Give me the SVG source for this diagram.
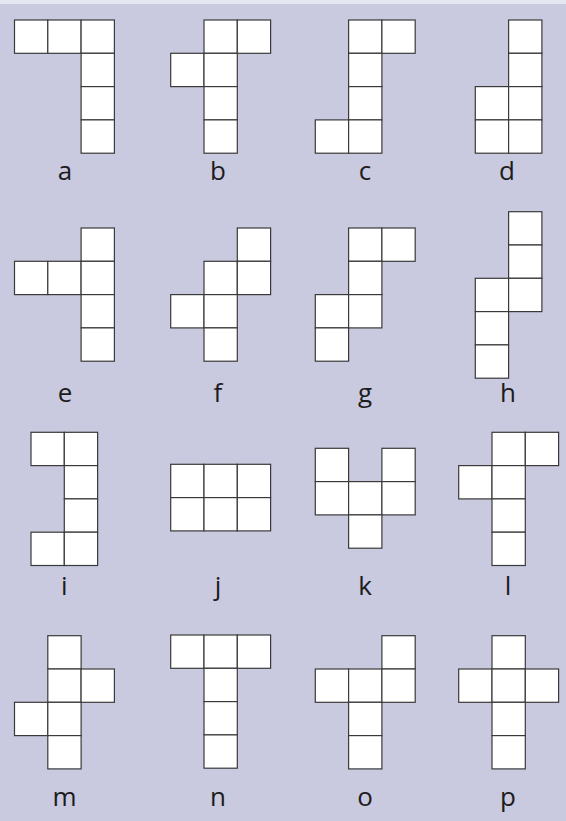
<svg xmlns="http://www.w3.org/2000/svg" width="566" height="821" viewBox="0 0 566 821">
<style>
.c{fill:#ffffff;stroke:#3a3a3a;stroke-width:1.2}
.t{font-family:"Open Sans","Liberation Sans",sans-serif;font-size:26px;fill:#1c1c1c;text-anchor:middle}
</style>
<rect x="0" y="0" width="566" height="821" fill="#c9c9df"/>
<rect x="0" y="0" width="566" height="4" fill="#e6e6f0"/>
<g id="a" transform="translate(14.5,20)">
<rect class="c" x="0" y="0" width="33.3" height="33.3"/><rect class="c" x="33.3" y="0" width="33.3" height="33.3"/><rect class="c" x="66.6" y="0" width="33.3" height="33.3"/><rect class="c" x="66.6" y="33.3" width="33.3" height="33.3"/><rect class="c" x="66.6" y="66.6" width="33.3" height="33.3"/><rect class="c" x="66.6" y="99.9" width="33.3" height="33.3"/>
<text class="t" x="50.5" y="160">a</text></g>
<g id="b" transform="translate(170.7,20)">
<rect class="c" x="33.3" y="0" width="33.3" height="33.3"/><rect class="c" x="66.6" y="0" width="33.3" height="33.3"/><rect class="c" x="0" y="33.3" width="33.3" height="33.3"/><rect class="c" x="33.3" y="33.3" width="33.3" height="33.3"/><rect class="c" x="33.3" y="66.6" width="33.3" height="33.3"/><rect class="c" x="33.3" y="99.9" width="33.3" height="33.3"/>
<text class="t" x="47.3" y="160">b</text></g>
<g id="c" transform="translate(315.3,20)">
<rect class="c" x="33.3" y="0" width="33.3" height="33.3"/><rect class="c" x="66.6" y="0" width="33.3" height="33.3"/><rect class="c" x="33.3" y="33.3" width="33.3" height="33.3"/><rect class="c" x="33.3" y="66.6" width="33.3" height="33.3"/><rect class="c" x="0" y="99.9" width="33.3" height="33.3"/><rect class="c" x="33.3" y="99.9" width="33.3" height="33.3"/>
<text class="t" x="49.7" y="160">c</text></g>
<g id="d" transform="translate(475.3,20)">
<rect class="c" x="33.3" y="0" width="33.3" height="33.3"/><rect class="c" x="33.3" y="33.3" width="33.3" height="33.3"/><rect class="c" x="0" y="66.6" width="33.3" height="33.3"/><rect class="c" x="33.3" y="66.6" width="33.3" height="33.3"/><rect class="c" x="0" y="99.9" width="33.3" height="33.3"/><rect class="c" x="33.3" y="99.9" width="33.3" height="33.3"/>
<text class="t" x="31.7" y="160">d</text></g>
<g id="e" transform="translate(14.5,228)">
<rect class="c" x="66.6" y="0" width="33.3" height="33.3"/><rect class="c" x="0" y="33.3" width="33.3" height="33.3"/><rect class="c" x="33.3" y="33.3" width="33.3" height="33.3"/><rect class="c" x="66.6" y="33.3" width="33.3" height="33.3"/><rect class="c" x="66.6" y="66.6" width="33.3" height="33.3"/><rect class="c" x="66.6" y="99.9" width="33.3" height="33.3"/>
<text class="t" x="50.5" y="174">e</text></g>
<g id="f" transform="translate(170.7,228)">
<rect class="c" x="66.6" y="0" width="33.3" height="33.3"/><rect class="c" x="33.3" y="33.3" width="33.3" height="33.3"/><rect class="c" x="66.6" y="33.3" width="33.3" height="33.3"/><rect class="c" x="0" y="66.6" width="33.3" height="33.3"/><rect class="c" x="33.3" y="66.6" width="33.3" height="33.3"/><rect class="c" x="33.3" y="99.9" width="33.3" height="33.3"/>
<text class="t" x="47.3" y="174">f</text></g>
<g id="g" transform="translate(315.3,228)">
<rect class="c" x="33.3" y="0" width="33.3" height="33.3"/><rect class="c" x="66.6" y="0" width="33.3" height="33.3"/><rect class="c" x="33.3" y="33.3" width="33.3" height="33.3"/><rect class="c" x="0" y="66.6" width="33.3" height="33.3"/><rect class="c" x="33.3" y="66.6" width="33.3" height="33.3"/><rect class="c" x="0" y="99.9" width="33.3" height="33.3"/>
<text class="t" x="49.7" y="174">g</text></g>
<g id="h" transform="translate(475.3,211.7)">
<rect class="c" x="33.3" y="0" width="33.3" height="33.3"/><rect class="c" x="33.3" y="33.3" width="33.3" height="33.3"/><rect class="c" x="0" y="66.6" width="33.3" height="33.3"/><rect class="c" x="33.3" y="66.6" width="33.3" height="33.3"/><rect class="c" x="0" y="99.9" width="33.3" height="33.3"/><rect class="c" x="0" y="133.2" width="33.3" height="33.3"/>
<text class="t" x="32.7" y="190.3">h</text></g>
<g id="i" transform="translate(31,432.3)">
<rect class="c" x="0" y="0" width="33.3" height="33.3"/><rect class="c" x="33.3" y="0" width="33.3" height="33.3"/><rect class="c" x="33.3" y="33.3" width="33.3" height="33.3"/><rect class="c" x="33.3" y="66.6" width="33.3" height="33.3"/><rect class="c" x="0" y="99.9" width="33.3" height="33.3"/><rect class="c" x="33.3" y="99.9" width="33.3" height="33.3"/>
<text class="t" x="33.3" y="162.7">i</text></g>
<g id="j" transform="translate(170.7,464.3)">
<rect class="c" x="0" y="0" width="33.3" height="33.3"/><rect class="c" x="33.3" y="0" width="33.3" height="33.3"/><rect class="c" x="66.6" y="0" width="33.3" height="33.3"/><rect class="c" x="0" y="33.3" width="33.3" height="33.3"/><rect class="c" x="33.3" y="33.3" width="33.3" height="33.3"/><rect class="c" x="66.6" y="33.3" width="33.3" height="33.3"/>
<text class="t" x="47.3" y="130.7">j</text></g>
<g id="k" transform="translate(315.3,448.3)">
<rect class="c" x="0" y="0" width="33.3" height="33.3"/><rect class="c" x="66.6" y="0" width="33.3" height="33.3"/><rect class="c" x="0" y="33.3" width="33.3" height="33.3"/><rect class="c" x="33.3" y="33.3" width="33.3" height="33.3"/><rect class="c" x="66.6" y="33.3" width="33.3" height="33.3"/><rect class="c" x="33.3" y="66.6" width="33.3" height="33.3"/>
<text class="t" x="49.7" y="146.7">k</text></g>
<g id="l" transform="translate(458.7,432.3)">
<rect class="c" x="33.3" y="0" width="33.3" height="33.3"/><rect class="c" x="66.6" y="0" width="33.3" height="33.3"/><rect class="c" x="0" y="33.3" width="33.3" height="33.3"/><rect class="c" x="33.3" y="33.3" width="33.3" height="33.3"/><rect class="c" x="33.3" y="66.6" width="33.3" height="33.3"/><rect class="c" x="33.3" y="99.9" width="33.3" height="33.3"/>
<text class="t" x="49.3" y="162.7">l</text></g>
<g id="m" transform="translate(14.5,635.7)">
<rect class="c" x="33.3" y="0" width="33.3" height="33.3"/><rect class="c" x="33.3" y="33.3" width="33.3" height="33.3"/><rect class="c" x="66.6" y="33.3" width="33.3" height="33.3"/><rect class="c" x="0" y="66.6" width="33.3" height="33.3"/><rect class="c" x="33.3" y="66.6" width="33.3" height="33.3"/><rect class="c" x="33.3" y="99.9" width="33.3" height="33.3"/>
<text class="t" x="50" y="170">m</text></g>
<g id="n" transform="translate(170.7,635)">
<rect class="c" x="0" y="0" width="33.3" height="33.3"/><rect class="c" x="33.3" y="0" width="33.3" height="33.3"/><rect class="c" x="66.6" y="0" width="33.3" height="33.3"/><rect class="c" x="33.3" y="33.3" width="33.3" height="33.3"/><rect class="c" x="33.3" y="66.6" width="33.3" height="33.3"/><rect class="c" x="33.3" y="99.9" width="33.3" height="33.3"/>
<text class="t" x="47.3" y="170.7">n</text></g>
<g id="o" transform="translate(315.3,635.7)">
<rect class="c" x="66.6" y="0" width="33.3" height="33.3"/><rect class="c" x="0" y="33.3" width="33.3" height="33.3"/><rect class="c" x="33.3" y="33.3" width="33.3" height="33.3"/><rect class="c" x="66.6" y="33.3" width="33.3" height="33.3"/><rect class="c" x="33.3" y="66.6" width="33.3" height="33.3"/><rect class="c" x="33.3" y="99.9" width="33.3" height="33.3"/>
<text class="t" x="49.7" y="170">o</text></g>
<g id="p" transform="translate(458.7,635.7)">
<rect class="c" x="33.3" y="0" width="33.3" height="33.3"/><rect class="c" x="0" y="33.3" width="33.3" height="33.3"/><rect class="c" x="33.3" y="33.3" width="33.3" height="33.3"/><rect class="c" x="66.6" y="33.3" width="33.3" height="33.3"/><rect class="c" x="33.3" y="66.6" width="33.3" height="33.3"/><rect class="c" x="33.3" y="99.9" width="33.3" height="33.3"/>
<text class="t" x="49.3" y="170">p</text></g>
<g id="connectors"/>
</svg>
